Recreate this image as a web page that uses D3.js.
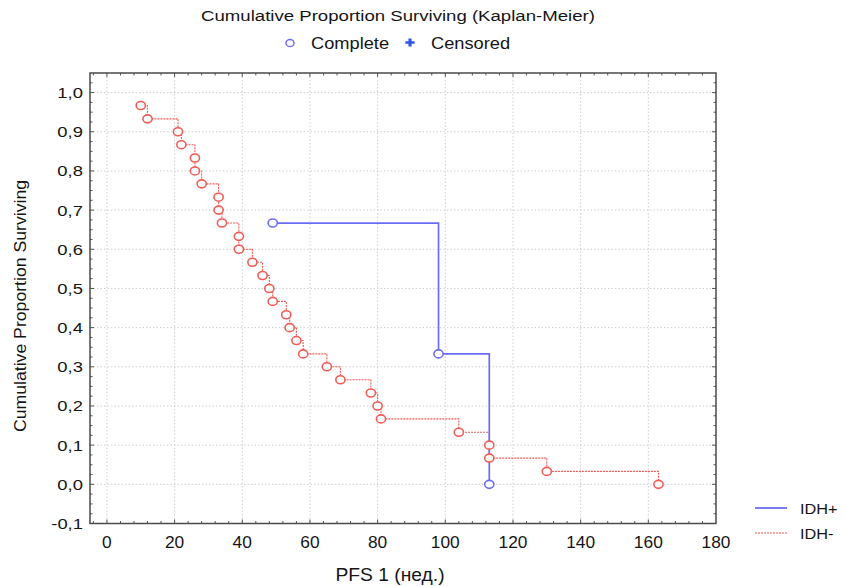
<!DOCTYPE html>
<html>
<head>
<meta charset="utf-8">
<script src="https://cdn.jsdelivr.net/npm/d3@7"></script>
<style>
  body { margin: 0; background: #fff; }
  text { font-family: "Liberation Sans", Arial, sans-serif; fill: #151515; }
</style>
</head>
<body>
<div id="chart"></div>
<script>
// IDH- group (red, dotted)
var idhMinusTimes = [10, 12, 21, 22, 26, 26, 28, 33, 33, 34, 39, 39, 43, 46, 48, 49, 53, 54, 56, 58, 65, 69, 78, 80, 81, 104, 113, 113, 130, 163];
var idhMinusSurv = [0.967, 0.933, 0.9, 0.867, 0.833, 0.8, 0.767, 0.733, 0.7, 0.667, 0.633, 0.6, 0.567, 0.533, 0.5, 0.467, 0.433, 0.4, 0.367, 0.333, 0.3, 0.267, 0.233, 0.2, 0.167, 0.133, 0.1, 0.067, 0.033, 0];
// IDH+ group (blue, solid)
var idhPlusTimes = [49, 98, 113];
var idhPlusSurv = [0.667, 0.333, 0];

var xTicks = [0, 20, 40, 60, 80, 100, 120, 140, 160, 180];
var yTicks = [-0.1, 0, 0.1, 0.2, 0.3, 0.4, 0.5, 0.6, 0.7, 0.8, 0.9, 1.0];

var blue = "#6b6cf4";
var red = "#ef5b55";

var width = 845, height = 586;
var svg = d3.select("#chart").append("svg")
  .attr("width", width)
  .attr("height", height);

var x = d3.scaleLinear().domain([-5, 180]).range([90, 716]);
var y = d3.scaleLinear().domain([-0.1, 1.05]).range([523.5, 73]);

// stretch text horizontally (the original is wider than tall)
function stretch(sel, k) {
  sel.each(function() {
    var len = this.getComputedTextLength();
    d3.select(this).attr("textLength", len * k).attr("lengthAdjust", "spacingAndGlyphs");
  });
}

// grid
svg.append("g").selectAll("line")
  .data(xTicks.filter(function(d) { return d < 180; }))
  .join("line")
  .attr("x1", d => x(d)).attr("x2", d => x(d))
  .attr("y1", y(1.05)).attr("y2", y(-0.1))
  .attr("stroke", "#cfcfcf").attr("stroke-dasharray", "1.5,2");
svg.append("g").selectAll("line")
  .data(yTicks.filter(function(d) { return d > -0.1; }))
  .join("line")
  .attr("x1", x(-5)).attr("x2", x(180))
  .attr("y1", d => y(d)).attr("y2", d => y(d))
  .attr("stroke", "#cfcfcf").attr("stroke-dasharray", "1.5,2");

// minor + major ticks, pointing inward on all four sides
var xMinor = d3.range(-4, 180, 4);
var yMinor = d3.range(-0.1, 1.05, 0.025);
var ticks = svg.append("g").attr("stroke", "#555").attr("stroke-width", 1);
xMinor.forEach(function(d) {
  var major = Math.abs(d % 20) < 1e-9;
  var len = major ? 4 : 2.5;
  ticks.append("line").attr("x1", x(d)).attr("x2", x(d)).attr("y1", y(-0.1)).attr("y2", y(-0.1) - len);
  ticks.append("line").attr("x1", x(d)).attr("x2", x(d)).attr("y1", y(1.05)).attr("y2", y(1.05) + len);
});
yMinor.forEach(function(d) {
  var major = Math.abs(Math.round(d * 10) - d * 10) < 1e-6;
  var len = major ? 4 : 2.5;
  ticks.append("line").attr("y1", y(d)).attr("y2", y(d)).attr("x1", x(-5)).attr("x2", x(-5) + len);
  ticks.append("line").attr("y1", y(d)).attr("y2", y(d)).attr("x1", x(180)).attr("x2", x(180) - len);
});

// frame
svg.append("rect")
  .attr("x", x(-5)).attr("y", y(1.05))
  .attr("width", x(180) - x(-5)).attr("height", y(-0.1) - y(1.05))
  .attr("fill", "none").attr("stroke", "#4a4a4a").attr("stroke-width", 1.5);

// tick labels
var fmt = d3.format(".1f");
var yLab = svg.append("g").selectAll("text")
  .data(yTicks)
  .join("text")
  .attr("x", 83).attr("y", d => y(d) + 5.5)
  .attr("text-anchor", "end")
  .style("font-size", "14.5px")
  .text(d => fmt(d).replace(".", ",").replace("\u2212", "-"));
stretch(yLab, 1.27);

var xLab = svg.append("g").selectAll("text")
  .data(xTicks)
  .join("text")
  .attr("x", d => x(d)).attr("y", 548)
  .attr("text-anchor", "middle")
  .style("font-size", "16.5px")
  .text(d => d);
stretch(xLab, 1.05);

// axis titles
var xt = svg.append("text").attr("x", 390).attr("y", 581)
  .attr("text-anchor", "middle").style("font-size", "17.5px")
  .text("PFS 1 (нед.)");
stretch(xt, 1.1);

var yt = svg.append("text")
  .attr("transform", "translate(26,306) rotate(-90)")
  .attr("text-anchor", "middle").style("font-size", "16.5px")
  .text("Cumulative Proportion Surviving");
stretch(yt, 1.07);

// title
var tt = svg.append("text").attr("x", 398).attr("y", 21)
  .attr("text-anchor", "middle").style("font-size", "15.5px")
  .text("Cumulative Proportion Surviving (Kaplan-Meier)");
stretch(tt, 1.2);

// top legend
svg.append("ellipse")
  .attr("cx", 290).attr("cy", 43).attr("rx", 4).attr("ry", 3.6)
  .attr("fill", "#fff").attr("stroke", blue).attr("stroke-width", 1.5);
var lc = svg.append("text").attr("x", 311).attr("y", 49).style("font-size", "16px").text("Complete");
stretch(lc, 1.14);
svg.append("path")
  .attr("d", d3.symbol().type(d3.symbolCross).size(40)())
  .attr("transform", "translate(410,42.5) scale(1.1,0.95)")
  .attr("fill", "#2d55e6");
var lcs = svg.append("text").attr("x", 431).attr("y", 49).style("font-size", "16px").text("Censored");
stretch(lcs, 1.14);

// data
var blueData = idhPlusTimes.map(function(t, i) { return { t: t, s: idhPlusSurv[i] }; });
var redData = idhMinusTimes.map(function(t, i) { return { t: t, s: idhMinusSurv[i] }; });

var stepLine = d3.line()
  .x(d => x(d.t))
  .y(d => y(d.s))
  .curve(d3.curveStepAfter);

svg.append("path").datum(redData)
  .attr("fill", "none").attr("stroke", red)
  .attr("stroke-width", 1.1).attr("stroke-dasharray", "2,1")
  .attr("d", stepLine);

svg.append("path").datum(blueData)
  .attr("fill", "none").attr("stroke", blue)
  .attr("stroke-width", 1.7)
  .attr("d", stepLine);

svg.append("g").selectAll("ellipse")
  .data(redData)
  .join("ellipse")
  .attr("cx", d => x(d.t)).attr("cy", d => y(d.s))
  .attr("rx", 4.6).attr("ry", 4)
  .attr("fill", "#fff").attr("stroke", red).attr("stroke-width", 1.6);

svg.append("g").selectAll("ellipse")
  .data(blueData)
  .join("ellipse")
  .attr("cx", d => x(d.t)).attr("cy", d => y(d.s))
  .attr("rx", 4.6).attr("ry", 4)
  .attr("fill", "#fff").attr("stroke", blue).attr("stroke-width", 1.6);

// bottom-right legend
svg.append("line").attr("x1", 755).attr("x2", 787).attr("y1", 508).attr("y2", 508)
  .attr("stroke", blue).attr("stroke-width", 1.8);
var l1 = svg.append("text").attr("x", 800).attr("y", 514).style("font-size", "15.5px").text("IDH+");
stretch(l1, 1.05);
svg.append("line").attr("x1", 755).attr("x2", 787).attr("y1", 533).attr("y2", 533)
  .attr("stroke", red).attr("stroke-width", 1.1).attr("stroke-dasharray", "2,1");
var l2 = svg.append("text").attr("x", 800).attr("y", 539).style("font-size", "15.5px").text("IDH-");
stretch(l2, 1.05);
</script>
</body>
</html>
